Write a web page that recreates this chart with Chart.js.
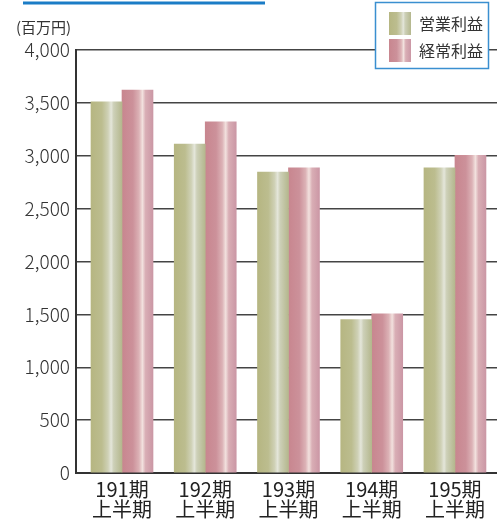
<!DOCTYPE html>
<html lang="ja">
<head>
<meta charset="utf-8">
<title>営業利益・経常利益</title>
<script src="https://cdn.jsdelivr.net/npm/chart.js@4.4.1/dist/chart.umd.min.js"></script>
<style>
  html, body { margin: 0; padding: 0; background: #fff; }
  #wrap { position: relative; width: 497px; height: 520px; }
</style>
</head>
<body>
<div id="wrap"><canvas id="profit-chart"></canvas></div>
<script>
// 期ごとのデータ（単位：百万円）
const periods = [['191期', '上半期'], ['192期', '上半期'], ['193期', '上半期'], ['194期', '上半期'], ['195期', '上半期']];
const operatingProfit = [3510, 3110, 2845, 1450, 2885];
const ordinaryProfit = [3620, 3320, 2885, 1505, 3005];
const seriesNames = ['営業利益', '経常利益'];
const yTicks = [0, 500, 1000, 1500, 2000, 2500, 3000, 3500, 4000];
const unitLabel = '(百万円)';

const BAR_W = 31;
const FONT = '"Noto Sans CJK JP", "Noto Sans", sans-serif';

// 棒の光沢グラデーション
const gloss = [
  [[0, '#b6b682'], [0.35, '#bcbd8f'], [0.55, '#cfd1b6'], [0.65, '#e4e6da'], [0.73, '#cdd0b8'], [1, '#b4b78d']],
  [[0, '#c8868f'], [0.35, '#cc919a'], [0.55, '#dcb2b6'], [0.66, '#f2e1de'], [0.76, '#d9aeb5'], [1, '#cb97a5']],
];

function makeGloss(c, x0, x1, stops) {
  const g = c.createLinearGradient(x0, 0, x1, 0);
  stops.forEach(([p, col]) => g.addColorStop(p, col));
  return g;
}

function barFill(context) {
  const chart = context.chart;
  const xs = chart.scales.x;
  if (!xs || !chart.chartArea) return gloss[context.datasetIndex][0][1];
  const center = xs.getPixelForValue(context.dataIndex);
  const x0 = center - BAR_W + context.datasetIndex * BAR_W;
  return makeGloss(chart.ctx, x0, x0 + BAR_W, gloss[context.datasetIndex]);
}

// 上部の青線・単位・凡例
const decorations = {
  id: 'decorations',
  afterDraw(chart) {
    const c = chart.ctx;
    c.save();
    c.fillStyle = '#1b7cc6';
    c.fillRect(23, 1.5, 242, 3);

    c.fillStyle = '#333';
    c.font = '15px ' + FONT;
    c.textAlign = 'left';
    c.textBaseline = 'middle';
    c.fillText(unitLabel, 16, 27);

    // 凡例
    c.fillStyle = '#fff';
    c.fillRect(375.5, 2.5, 113, 66);
    c.strokeStyle = '#3a8fd0';
    c.lineWidth = 1.5;
    c.strokeRect(375.5, 2.5, 113, 66);
    chart.data.datasets.forEach((ds, i) => {
      const top = 12 + i * 27;
      c.fillStyle = makeGloss(c, 389, 411, gloss[i]);
      c.fillRect(389, top, 22, 23);
      c.fillStyle = '#333';
      c.font = '16px ' + FONT;
      c.fillText(ds.label, 419, top + 12);
    });
    c.restore();
  },
};

new Chart(document.getElementById('profit-chart'), {
  type: 'bar',
  data: {
    datasets: [
      { label: seriesNames[0], data: operatingProfit.map((v, i) => ({ x: i, y: v })), backgroundColor: barFill },
      { label: seriesNames[1], data: ordinaryProfit.map((v, i) => ({ x: i, y: v })), backgroundColor: barFill },
    ],
  },
  options: {
    responsive: true,
    maintainAspectRatio: false,
    animation: false,
    barThickness: BAR_W,
    layout: { padding: { top: 50, left: 0, right: 0, bottom: 0 } },
    plugins: { legend: { display: false }, tooltip: { enabled: false } },
    scales: {
      x: {
        type: 'linear',
        offset: false,
        min: -0.5526,
        max: 4.505,
        afterBuildTicks: (scale) => { scale.ticks = periods.map((_, i) => ({ value: i })); },
        afterFit: (scale) => { scale.height = 47; },
        grid: { display: false, drawTicks: false, offset: false },
        border: { color: '#333', width: 2 },
        ticks: {
          autoSkip: false,
          maxRotation: 0,
          padding: 6,
          color: '#222',
          font: { family: FONT, size: 20, lineHeight: 1.0 },
          callback: (v) => periods[v] || '',
        },
      },
      y: {
        min: 0,
        max: 4000,
        afterBuildTicks: (scale) => { scale.ticks = yTicks.map((v) => ({ value: v })); },
        afterFit: (scale) => { scale.width = 76; },
        grid: { color: '#444', lineWidth: 1.5, drawTicks: false },
        border: { color: '#333', width: 2 },
        ticks: {
          padding: 6,
          color: '#333',
          font: { family: FONT, size: 19, weight: 300 },
          callback: (v) => v.toLocaleString('en-US'),
        },
      },
    },
  },
  plugins: [decorations],
});
</script>
</body>
</html>
